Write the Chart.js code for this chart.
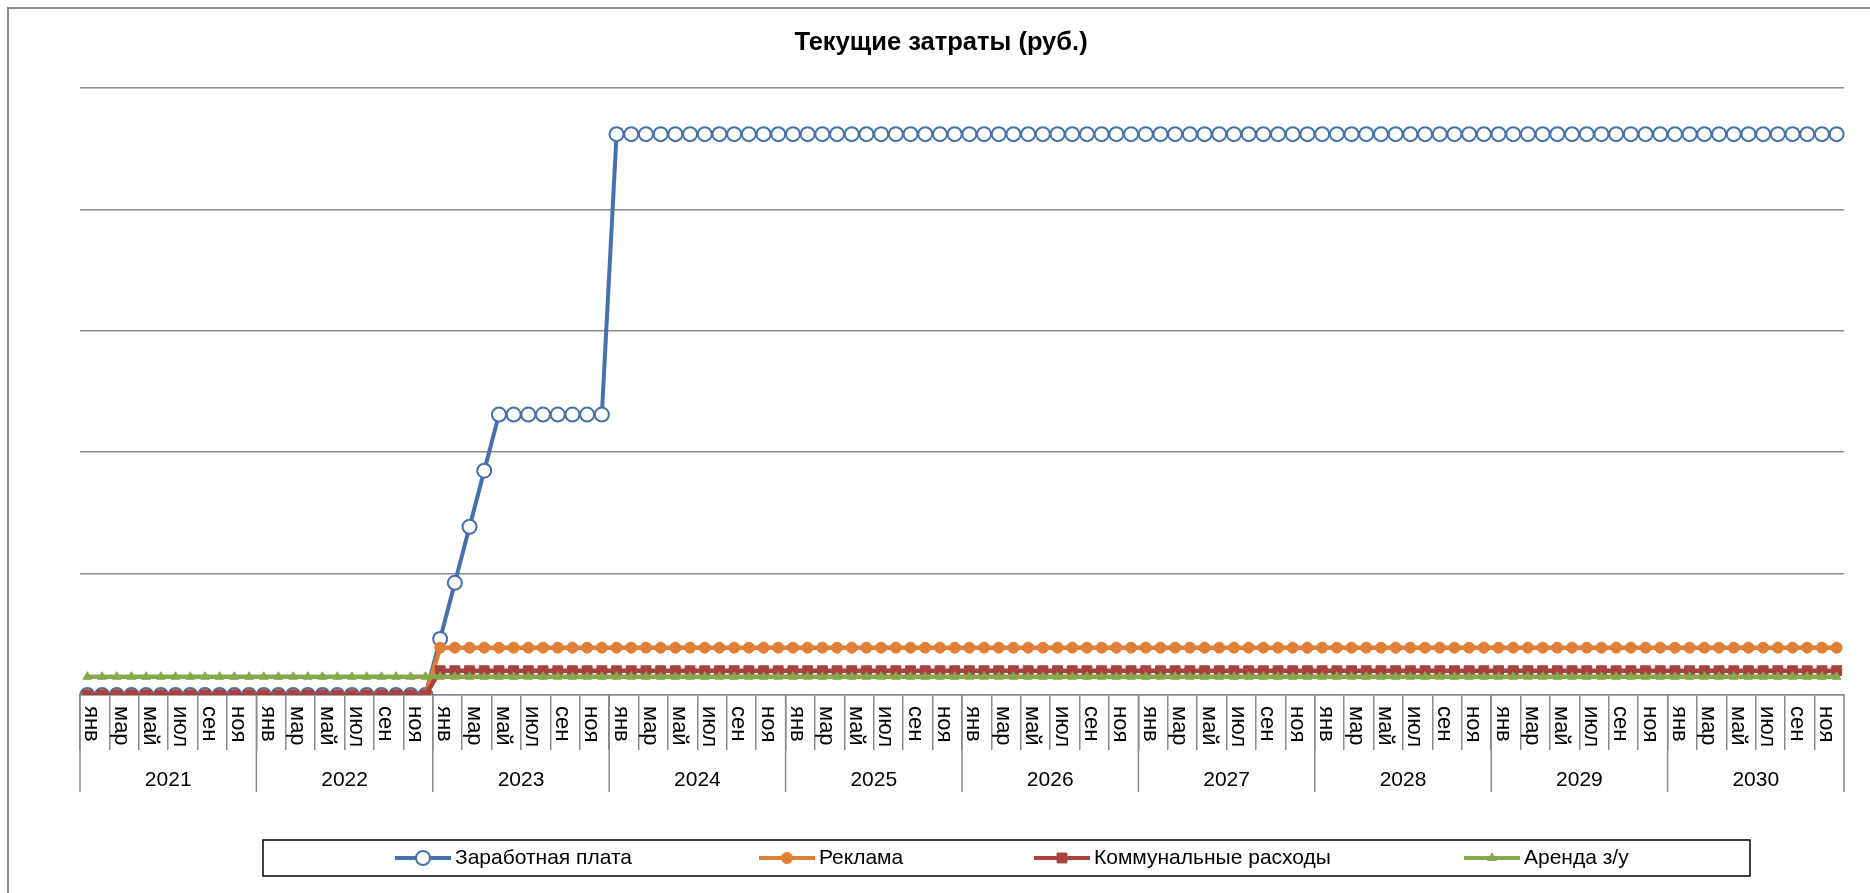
<!DOCTYPE html>
<html>
<head>
<meta charset="utf-8">
<script src="https://cdn.jsdelivr.net/npm/chart.js"></script>
<style>
  body { margin: 0; background: #fff; }
  #wrap { width: 1870px; height: 893px; }
</style>
</head>
<body>
<div id="wrap"><canvas id="costs" width="1870" height="893"></canvas></div>
<script>
const years = ["2021", "2022", "2023", "2024", "2025", "2026", "2027", "2028", "2029", "2030"];
const months = ["янв", "фев", "мар", "апр", "май", "июн", "июл", "авг", "сен", "окт", "ноя", "дек"];

// зарплата, реклама, коммуналка, аренда - по месяцам, строка = год
const salary = [
  0, 0, 0, 0, 0, 0, 0, 0, 0, 0, 0, 0,
  0, 0, 0, 0, 0, 0, 0, 0, 0, 0, 0, 0,
  46200, 92400, 138600, 184800, 231000, 231000, 231000, 231000, 231000, 231000, 231000, 231000,
  462000, 462000, 462000, 462000, 462000, 462000, 462000, 462000, 462000, 462000, 462000, 462000,
  462000, 462000, 462000, 462000, 462000, 462000, 462000, 462000, 462000, 462000, 462000, 462000,
  462000, 462000, 462000, 462000, 462000, 462000, 462000, 462000, 462000, 462000, 462000, 462000,
  462000, 462000, 462000, 462000, 462000, 462000, 462000, 462000, 462000, 462000, 462000, 462000,
  462000, 462000, 462000, 462000, 462000, 462000, 462000, 462000, 462000, 462000, 462000, 462000,
  462000, 462000, 462000, 462000, 462000, 462000, 462000, 462000, 462000, 462000, 462000, 462000,
  462000, 462000, 462000, 462000, 462000, 462000, 462000, 462000, 462000, 462000, 462000, 462000,
];
const advertising = [
  0, 0, 0, 0, 0, 0, 0, 0, 0, 0, 0, 0,
  0, 0, 0, 0, 0, 0, 0, 0, 0, 0, 0, 0,
  39000, 39000, 39000, 39000, 39000, 39000, 39000, 39000, 39000, 39000, 39000, 39000,
  39000, 39000, 39000, 39000, 39000, 39000, 39000, 39000, 39000, 39000, 39000, 39000,
  39000, 39000, 39000, 39000, 39000, 39000, 39000, 39000, 39000, 39000, 39000, 39000,
  39000, 39000, 39000, 39000, 39000, 39000, 39000, 39000, 39000, 39000, 39000, 39000,
  39000, 39000, 39000, 39000, 39000, 39000, 39000, 39000, 39000, 39000, 39000, 39000,
  39000, 39000, 39000, 39000, 39000, 39000, 39000, 39000, 39000, 39000, 39000, 39000,
  39000, 39000, 39000, 39000, 39000, 39000, 39000, 39000, 39000, 39000, 39000, 39000,
  39000, 39000, 39000, 39000, 39000, 39000, 39000, 39000, 39000, 39000, 39000, 39000,
];
const utilities = [
  0, 0, 0, 0, 0, 0, 0, 0, 0, 0, 0, 0,
  0, 0, 0, 0, 0, 0, 0, 0, 0, 0, 0, 0,
  20000, 20000, 20000, 20000, 20000, 20000, 20000, 20000, 20000, 20000, 20000, 20000,
  20000, 20000, 20000, 20000, 20000, 20000, 20000, 20000, 20000, 20000, 20000, 20000,
  20000, 20000, 20000, 20000, 20000, 20000, 20000, 20000, 20000, 20000, 20000, 20000,
  20000, 20000, 20000, 20000, 20000, 20000, 20000, 20000, 20000, 20000, 20000, 20000,
  20000, 20000, 20000, 20000, 20000, 20000, 20000, 20000, 20000, 20000, 20000, 20000,
  20000, 20000, 20000, 20000, 20000, 20000, 20000, 20000, 20000, 20000, 20000, 20000,
  20000, 20000, 20000, 20000, 20000, 20000, 20000, 20000, 20000, 20000, 20000, 20000,
  20000, 20000, 20000, 20000, 20000, 20000, 20000, 20000, 20000, 20000, 20000, 20000,
];
const landRent = [
  15000, 15000, 15000, 15000, 15000, 15000, 15000, 15000, 15000, 15000, 15000, 15000,
  15000, 15000, 15000, 15000, 15000, 15000, 15000, 15000, 15000, 15000, 15000, 15000,
  15000, 15000, 15000, 15000, 15000, 15000, 15000, 15000, 15000, 15000, 15000, 15000,
  15000, 15000, 15000, 15000, 15000, 15000, 15000, 15000, 15000, 15000, 15000, 15000,
  15000, 15000, 15000, 15000, 15000, 15000, 15000, 15000, 15000, 15000, 15000, 15000,
  15000, 15000, 15000, 15000, 15000, 15000, 15000, 15000, 15000, 15000, 15000, 15000,
  15000, 15000, 15000, 15000, 15000, 15000, 15000, 15000, 15000, 15000, 15000, 15000,
  15000, 15000, 15000, 15000, 15000, 15000, 15000, 15000, 15000, 15000, 15000, 15000,
  15000, 15000, 15000, 15000, 15000, 15000, 15000, 15000, 15000, 15000, 15000, 15000,
  15000, 15000, 15000, 15000, 15000, 15000, 15000, 15000, 15000, 15000, 15000, 15000,
];

const FONT = "'Liberation Sans', Arial, sans-serif";
const GRID = "#8a8a8a";

// подписи категорий: месяц + год
const labels = [];
for (const y of years) {
  for (const m of months) labels.push(m + " " + y);
}

// рамка диаграммы
const framePlugin = {
  id: "frame",
  beforeDraw(chart) {
    const ctx = chart.ctx;
    ctx.save();
    ctx.fillStyle = "#fff";
    ctx.fillRect(0, 0, chart.width, chart.height);
    ctx.strokeStyle = "#8a8a8a";
    ctx.lineWidth = 2;
    ctx.strokeRect(8, 8, chart.width + 20, chart.height + 20);
    ctx.restore();
  },
};

// подписи месяцев (повернуты по часовой), годы и длинные засечки между годами
const axisLabelsPlugin = {
  id: "axisLabels",
  afterDraw(chart) {
    const ctx = chart.ctx;
    const x = chart.scales.x;
    const top = chart.chartArea.bottom;
    ctx.save();
    ctx.fillStyle = "#000";
    ctx.font = "22px " + FONT;
    ctx.textAlign = "left";
    ctx.textBaseline = "alphabetic";
    labels.forEach((lbl, i) => {
      if (i % 2 !== 0) return;
      const px = x.getPixelForValue(i);
      ctx.save();
      ctx.translate(px - 2, top + 11);
      ctx.rotate(Math.PI / 2);
      ctx.fillText(months[i % 12], 0, 0);
      ctx.restore();
    });

    ctx.strokeStyle = GRID;
    ctx.lineWidth = 1.5;
    ctx.font = "21px " + FONT;
    ctx.textAlign = "center";
    ctx.textBaseline = "middle";
    const half = (x.getPixelForValue(1) - x.getPixelForValue(0)) / 2;
    years.forEach((yr, k) => {
      const left = x.getPixelForValue(k * 12) - half;
      const right = x.getPixelForValue(k * 12 + 11) + half;
      ctx.beginPath();
      ctx.moveTo(left, top);
      ctx.lineTo(left, top + 97);
      ctx.stroke();
      if (k === years.length - 1) {
        ctx.beginPath();
        ctx.moveTo(right, top);
        ctx.lineTo(right, top + 97);
        ctx.stroke();
      }
      ctx.fillText(yr, (left + right) / 2, top + 85);
    });
    ctx.restore();
  },
};

// легенда в рамке
const legendSlots = [395, 759, 1034, 1464];
const legendBoxPlugin = {
  id: "legendBox",
  afterDraw(chart) {
    const ctx = chart.ctx;
    ctx.save();
    ctx.strokeStyle = "#000";
    ctx.lineWidth = 1.5;
    ctx.strokeRect(263, 840, 1487, 36);
    const cy = 858;
    chart.data.datasets.forEach((ds, i) => {
      const x0 = legendSlots[i];
      ctx.strokeStyle = ds.borderColor;
      ctx.lineWidth = 4;
      ctx.beginPath();
      ctx.moveTo(x0, cy);
      ctx.lineTo(x0 + 56, cy);
      ctx.stroke();
      ctx.fillStyle = ds.pointBackgroundColor;
      ctx.strokeStyle = ds.borderColor;
      ctx.lineWidth = ds.pointBorderWidth;
      Chart.helpers.drawPoint(ctx, {
        pointStyle: ds.pointStyle,
        rotation: 0,
        radius: ds.pointRadius,
        borderWidth: ds.pointBorderWidth,
      }, x0 + 28, cy);
      ctx.fillStyle = "#000";
      ctx.font = "21px " + FONT;
      ctx.textAlign = "left";
      ctx.textBaseline = "middle";
      ctx.fillText(ds.label, x0 + 60, cy);
    });
    ctx.restore();
  },
};

const chart = new Chart(document.getElementById("costs"), {
  type: "line",
  data: {
    labels: labels,
    datasets: [
      {
        label: "Заработная плата",
        data: salary,
        borderColor: "#4371ad",
        borderWidth: 4,
        pointStyle: "circle",
        pointRadius: 7,
        pointBackgroundColor: "#ffffff",
        pointBorderColor: "#4371ad",
        pointBorderWidth: 2,
        order: 4,
      },
      {
        label: "Реклама",
        data: advertising,
        borderColor: "#e07f36",
        borderWidth: 4.5,
        pointStyle: "circle",
        pointRadius: 5.5,
        pointBackgroundColor: "#e07f36",
        pointBorderColor: "#e07f36",
        pointBorderWidth: 1,
        order: 3,
      },
      {
        label: "Коммунальные расходы",
        data: utilities,
        borderColor: "#a9423f",
        borderWidth: 4.5,
        pointStyle: "rect",
        pointRadius: 7,
        pointBackgroundColor: "#a9423f",
        pointBorderColor: "#a9423f",
        pointBorderWidth: 1,
        order: 2,
      },
      {
        label: "Аренда з/у",
        data: landRent,
        borderColor: "#87a94b",
        borderWidth: 4.5,
        pointStyle: "triangle",
        pointRadius: 5,
        pointBackgroundColor: "#87a94b",
        pointBorderColor: "#87a94b",
        pointBorderWidth: 1,
        order: 1,
      },
    ],
  },
  options: {
    responsive: false,
    animation: false,
    events: [],
    layout: { padding: { left: 12, right: 0, top: 0, bottom: 0 } },
    plugins: {
      legend: { display: false },
      tooltip: { enabled: false },
      title: {
        display: true,
        text: "Текущие затраты (руб.)",
        color: "#000",
        font: { family: FONT, size: 25.5, weight: "bold" },
        padding: { top: 28, bottom: 29.4 },
      },
    },
    scales: {
      x: {
        offset: true,
        ticks: { display: false },
        grid: {
          offset: true,
          drawOnChartArea: false,
          drawTicks: true,
          tickLength: 55,
          lineWidth: 1.5,
          color: (c) => (c.index % 2 === 0 ? GRID : "rgba(0,0,0,0)"),
        },
        border: { display: true, color: GRID, width: 1.5 },
        afterFit(scale) {
          scale.height = 198;
        },
      },
      y: {
        min: 0,
        max: 500000,
        ticks: { display: false, stepSize: 100000 },
        grid: { color: GRID, lineWidth: 1.5, drawTicks: false },
        border: { display: false },
        afterFit(scale) {
          scale.width = 68;
        },
      },
      yRight: {
        position: "right",
        display: true,
        ticks: { display: false },
        grid: { display: false },
        border: { display: false },
        afterFit(scale) {
          scale.width = 26;
        },
      },
    },
  },
  plugins: [framePlugin, axisLabelsPlugin, legendBoxPlugin],
});
</script>
</body>
</html>
